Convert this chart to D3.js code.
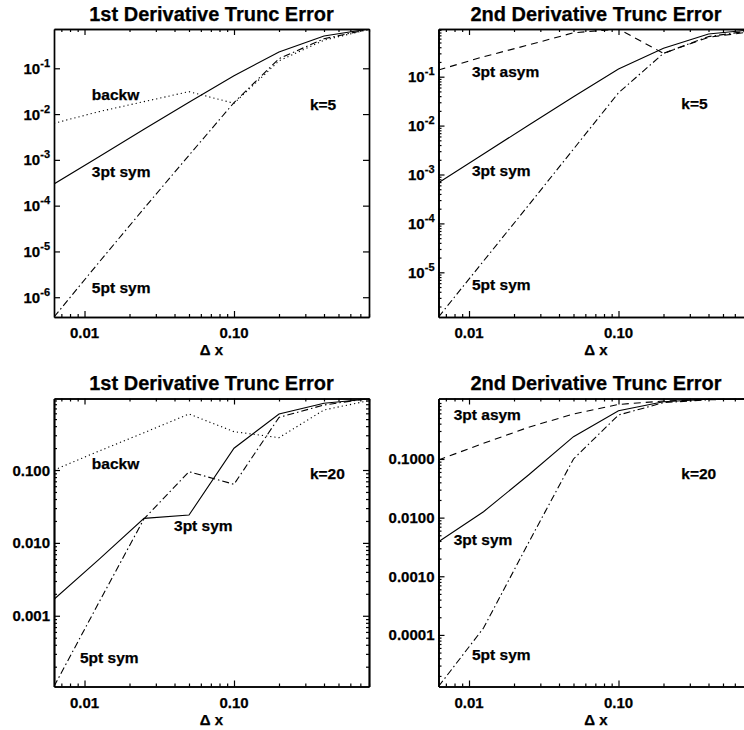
<!DOCTYPE html>
<html><head><meta charset="utf-8">
<script src="https://cdn.jsdelivr.net/npm/d3@7"></script>
<style>
body{margin:0;background:#fff;overflow:hidden}
svg{display:block}
text{font-family:"Liberation Sans",Arial,Helvetica,sans-serif;font-weight:bold;fill:#000;stroke:#000;stroke-width:0.25}
</style></head><body>
<svg id="c" width="744" height="730"></svg>
<script>
// ---- data ----
const dx = [0.00625, 0.0125, 0.025, 0.05, 0.1, 0.2, 0.4, 0.8];

// Panel 1: 1st derivative, k=5
const p1_sym3  = [2.98e-4, 1.17e-3, 4.68e-3, 1.82e-2, 6.9e-2, 0.226, 0.507, 0.721];
const p1_backw = [6.3e-3, 1.13e-2, 1.87e-2, 3.09e-2, 1.72e-2, 0.145, 0.41, 0.708];
const p1_sym5  = [3.7e-7, 5.8e-6, 8.7e-5, 1.26e-3, 1.78e-2, 0.162, 0.442, 0.711];

// Panel 2: 2nd derivative, k=5
const p2_sym3  = [6.8e-4, 2.63e-3, 1.02e-2, 3.89e-2, 0.143, 0.38, 0.746, 0.923];
const p2_asym3 = [0.137, 0.256, 0.445, 0.79, 0.944, 0.30, 0.638, 0.841];
const p2_sym5  = [1.22e-6, 1.7e-5, 2.34e-4, 3.31e-3, 4.68e-2, 0.30, 0.66, 0.89];

// Panel 3: 1st derivative, k=20
const p3_sym3  = [1.68e-3, 5.94e-3, 2.17e-2, 2.41e-2, 0.199, 0.587, 0.824, 0.944];
const p3_backw = [0.100, 0.182, 0.325, 0.587, 0.336, 0.278, 0.667, 0.895];
const p3_sym5  = [1.07e-4, 1.53e-3, 2.14e-2, 9.48e-2, 6.37e-2, 0.528, 0.78, 0.958];

// Panel 4: 2nd derivative, k=20
const p4_sym3  = [3.89e-3, 1.26e-2, 5.33e-2, 0.24, 0.665, 0.948, 1.04, 1.047];
const p4_asym3 = [0.0962, 0.185, 0.347, 0.585, 0.851, 0.973, 1.04, 1.074];
const p4_sym5  = [1.32e-5, 1.31e-4, 3.72e-3, 0.1, 0.562, 0.912, 1.023, 1.059];

const xTickValues = [0.01, 0.1];
const xTickLabels = ["0.01", "0.10"];
const yTicksExp = [1e-1, 1e-2, 1e-3, 1e-4, 1e-5, 1e-6];
const yTicksExpLabels = ["-1", "-2", "-3", "-4", "-5", "-6"];
const yTicks3 = [0.1, 0.01, 0.001];
const yTicks3Labels = ["0.100", "0.010", "0.001"];
const yTicks4 = [0.1, 0.01, 0.001, 0.0001];
const yTicks4Labels = ["0.1000", "0.0100", "0.0010", "0.0001"];

const titles = ["1st Derivative Trunc Error", "2nd Derivative Trunc Error",
                "1st Derivative Trunc Error", "2nd Derivative Trunc Error"];

// annotation text with data-space anchors [x, y]
const p1_notes = [["backw", 0.0112, 0.0203], ["3pt sym", 0.0112, 4.3e-4], ["5pt sym", 0.0112, 1.22e-6], ["k=5", 0.322, 0.0123]];
const p2_notes = [["3pt asym", 0.01047, 0.097], ["3pt sym", 0.01047, 9.3e-4], ["5pt sym", 0.01047, 4.35e-6], ["k=5", 0.263, 0.0215]];
const p3_notes = [["backw", 0.0112, 0.102], ["3pt sym", 0.0397, 0.0147], ["5pt sym", 0.00933, 2.26e-4], ["k=20", 0.322, 0.0753]];
const p4_notes = [["3pt asym", 0.0079, 0.461], ["3pt sym", 0.0079, 3.42e-3], ["5pt sym", 0.01047, 3.74e-5], ["k=20", 0.263, 0.0451]];

// ---- styles ----
const STY = {
  solid: null,
  dotted: "1.2,3",
  dashed: "7,5",
  dashdot: "7,3,1.5,3"
};

const panels = [
  {box:[54, 29, 315, 288], title:titles[0], series:[[p1_sym3,"solid"],[p1_backw,"dotted"],[p1_sym5,"dashdot"]],
   yt:yTicksExp, ytl:yTicksExpLabels, sup:true, minorY:false, notes:p1_notes},
  {box:[438.5, 29, 315, 288], title:titles[1], series:[[p2_sym3,"solid"],[p2_asym3,"dashed"],[p2_sym5,"dashdot"]],
   yt:yTicksExp, ytl:yTicksExpLabels, sup:true, minorY:true, notes:p2_notes},
  {box:[54, 398.5, 315, 288], title:titles[2], series:[[p3_sym3,"solid"],[p3_backw,"dotted"],[p3_sym5,"dashdot"]],
   yt:yTicks3, ytl:yTicks3Labels, sup:false, minorY:true, notes:p3_notes},
  {box:[438.5, 398.5, 315, 288], title:titles[3], series:[[p4_sym3,"solid"],[p4_asym3,"dashed"],[p4_sym5,"dashdot"]],
   yt:yTicks4, ytl:yTicks4Labels, sup:false, minorY:true, notes:p4_notes}
];

function minorTicks(domain){
  const lo = Math.floor(Math.log10(domain[0])), hi = Math.ceil(Math.log10(domain[1]));
  const out = [];
  for (let e = lo; e <= hi; e++) for (let m = 2; m <= 9; m++) {
    const v = m * Math.pow(10, e);
    if (v >= domain[0] && v <= domain[1]) out.push(v);
  }
  return out;
}

const svg = d3.select("#c");
const MAJ = 6, MIN = 3;

panels.forEach((p, i) => {
  const [x0, y0, w, h] = p.box;
  const all = p.series.flatMap(s => s[0]);
  const yDom = d3.extent(all);
  const xDom = d3.extent(dx);
  const x = d3.scaleLog().domain(xDom).range([x0, x0 + w]);
  const y = d3.scaleLog().domain(yDom).range([y0 + h, y0]);
  const g = svg.append("g");

  const cid = "clip" + i;
  g.append("clipPath").attr("id", cid).append("rect")
    .attr("x", x0).attr("y", y0).attr("width", w).attr("height", h);

  // data lines
  const line = d3.line().x(d => x(d[0])).y(d => y(d[1]));
  p.series.forEach(([vals, sty]) => {
    g.append("path").attr("clip-path", `url(#${cid})`)
      .attr("d", line(dx.map((d, j) => [d, vals[j]])))
      .attr("fill", "none").attr("stroke", "#000").attr("stroke-width", 1.1)
      .attr("stroke-dasharray", STY[sty]);
  });

  // visible major y ticks only
  const inDom = v => v >= yDom[0] && v <= yDom[1];
  const ytVis = p.yt.filter(inDom);

  // axes (ticks inward, both sides)
  const xm = minorTicks(xDom), ym = minorTicks(yDom);
  const axStyle = sel => {
    sel.selectAll(".tick line").attr("stroke", "#000").attr("stroke-width", 1.2);
    sel.selectAll(".tick text").remove();
    sel.select(".domain").attr("stroke", "#000").attr("stroke-width", 1.7);
  };
  const mk = (axisFn, scale, vals, size, tx, ty) => {
    g.append("g").attr("transform", `translate(${tx},${ty})`)
      .call(axisFn(scale).tickValues(vals).tickSizeInner(size).tickSizeOuter(0).tickFormat(""))
      .call(axStyle);
  };
  mk(d3.axisBottom, x, xTickValues, -MAJ, 0, y0 + h);
  mk(d3.axisBottom, x, xm, -MIN, 0, y0 + h);
  mk(d3.axisTop, x, xTickValues, -MAJ, 0, y0);
  mk(d3.axisTop, x, xm, -MIN, 0, y0);
  mk(d3.axisLeft, y, ytVis, -MAJ, x0, 0);
  mk(d3.axisRight, y, ytVis, -MAJ, x0 + w, 0);
  if (p.minorY) {
    mk(d3.axisLeft, y, ym, -MIN, x0, 0);
    mk(d3.axisRight, y, ym, -MIN, x0 + w, 0);
  }

  // x tick labels
  xTickValues.forEach((v, j) => {
    g.append("text").attr("x", x(v)).attr("y", y0 + h + 21)
      .attr("text-anchor", "middle").attr("font-size", 15).text(xTickLabels[j]);
  });
  // x title
  g.append("text").attr("x", x0 + w / 2).attr("y", y0 + h + 38)
    .attr("text-anchor", "middle").attr("font-size", 15).text("Δ x");

  // y tick labels
  p.yt.forEach((v, j) => {
    if (!inDom(v)) return;
    const t = g.append("text").attr("x", x0 - 4).attr("y", y(v) + 5.5)
      .attr("text-anchor", "end").attr("font-size", 15);
    if (p.sup) {
      t.append("tspan").text("10");
      t.append("tspan").attr("dy", -7).attr("font-size", 11).text(p.ytl[j]);
    } else t.text(p.ytl[j]);
  });

  // title
  g.append("text").attr("x", x0 + w / 2).attr("y", y0 - 8.5)
    .attr("text-anchor", "middle").attr("font-size", 20).text(p.title);

  // annotations
  p.notes.forEach(([txt, nx, ny]) => {
    g.append("text").attr("x", x(nx)).attr("y", y(ny)).attr("font-size", 15.5).text(txt);
  });
});
</script>
</body></html>
